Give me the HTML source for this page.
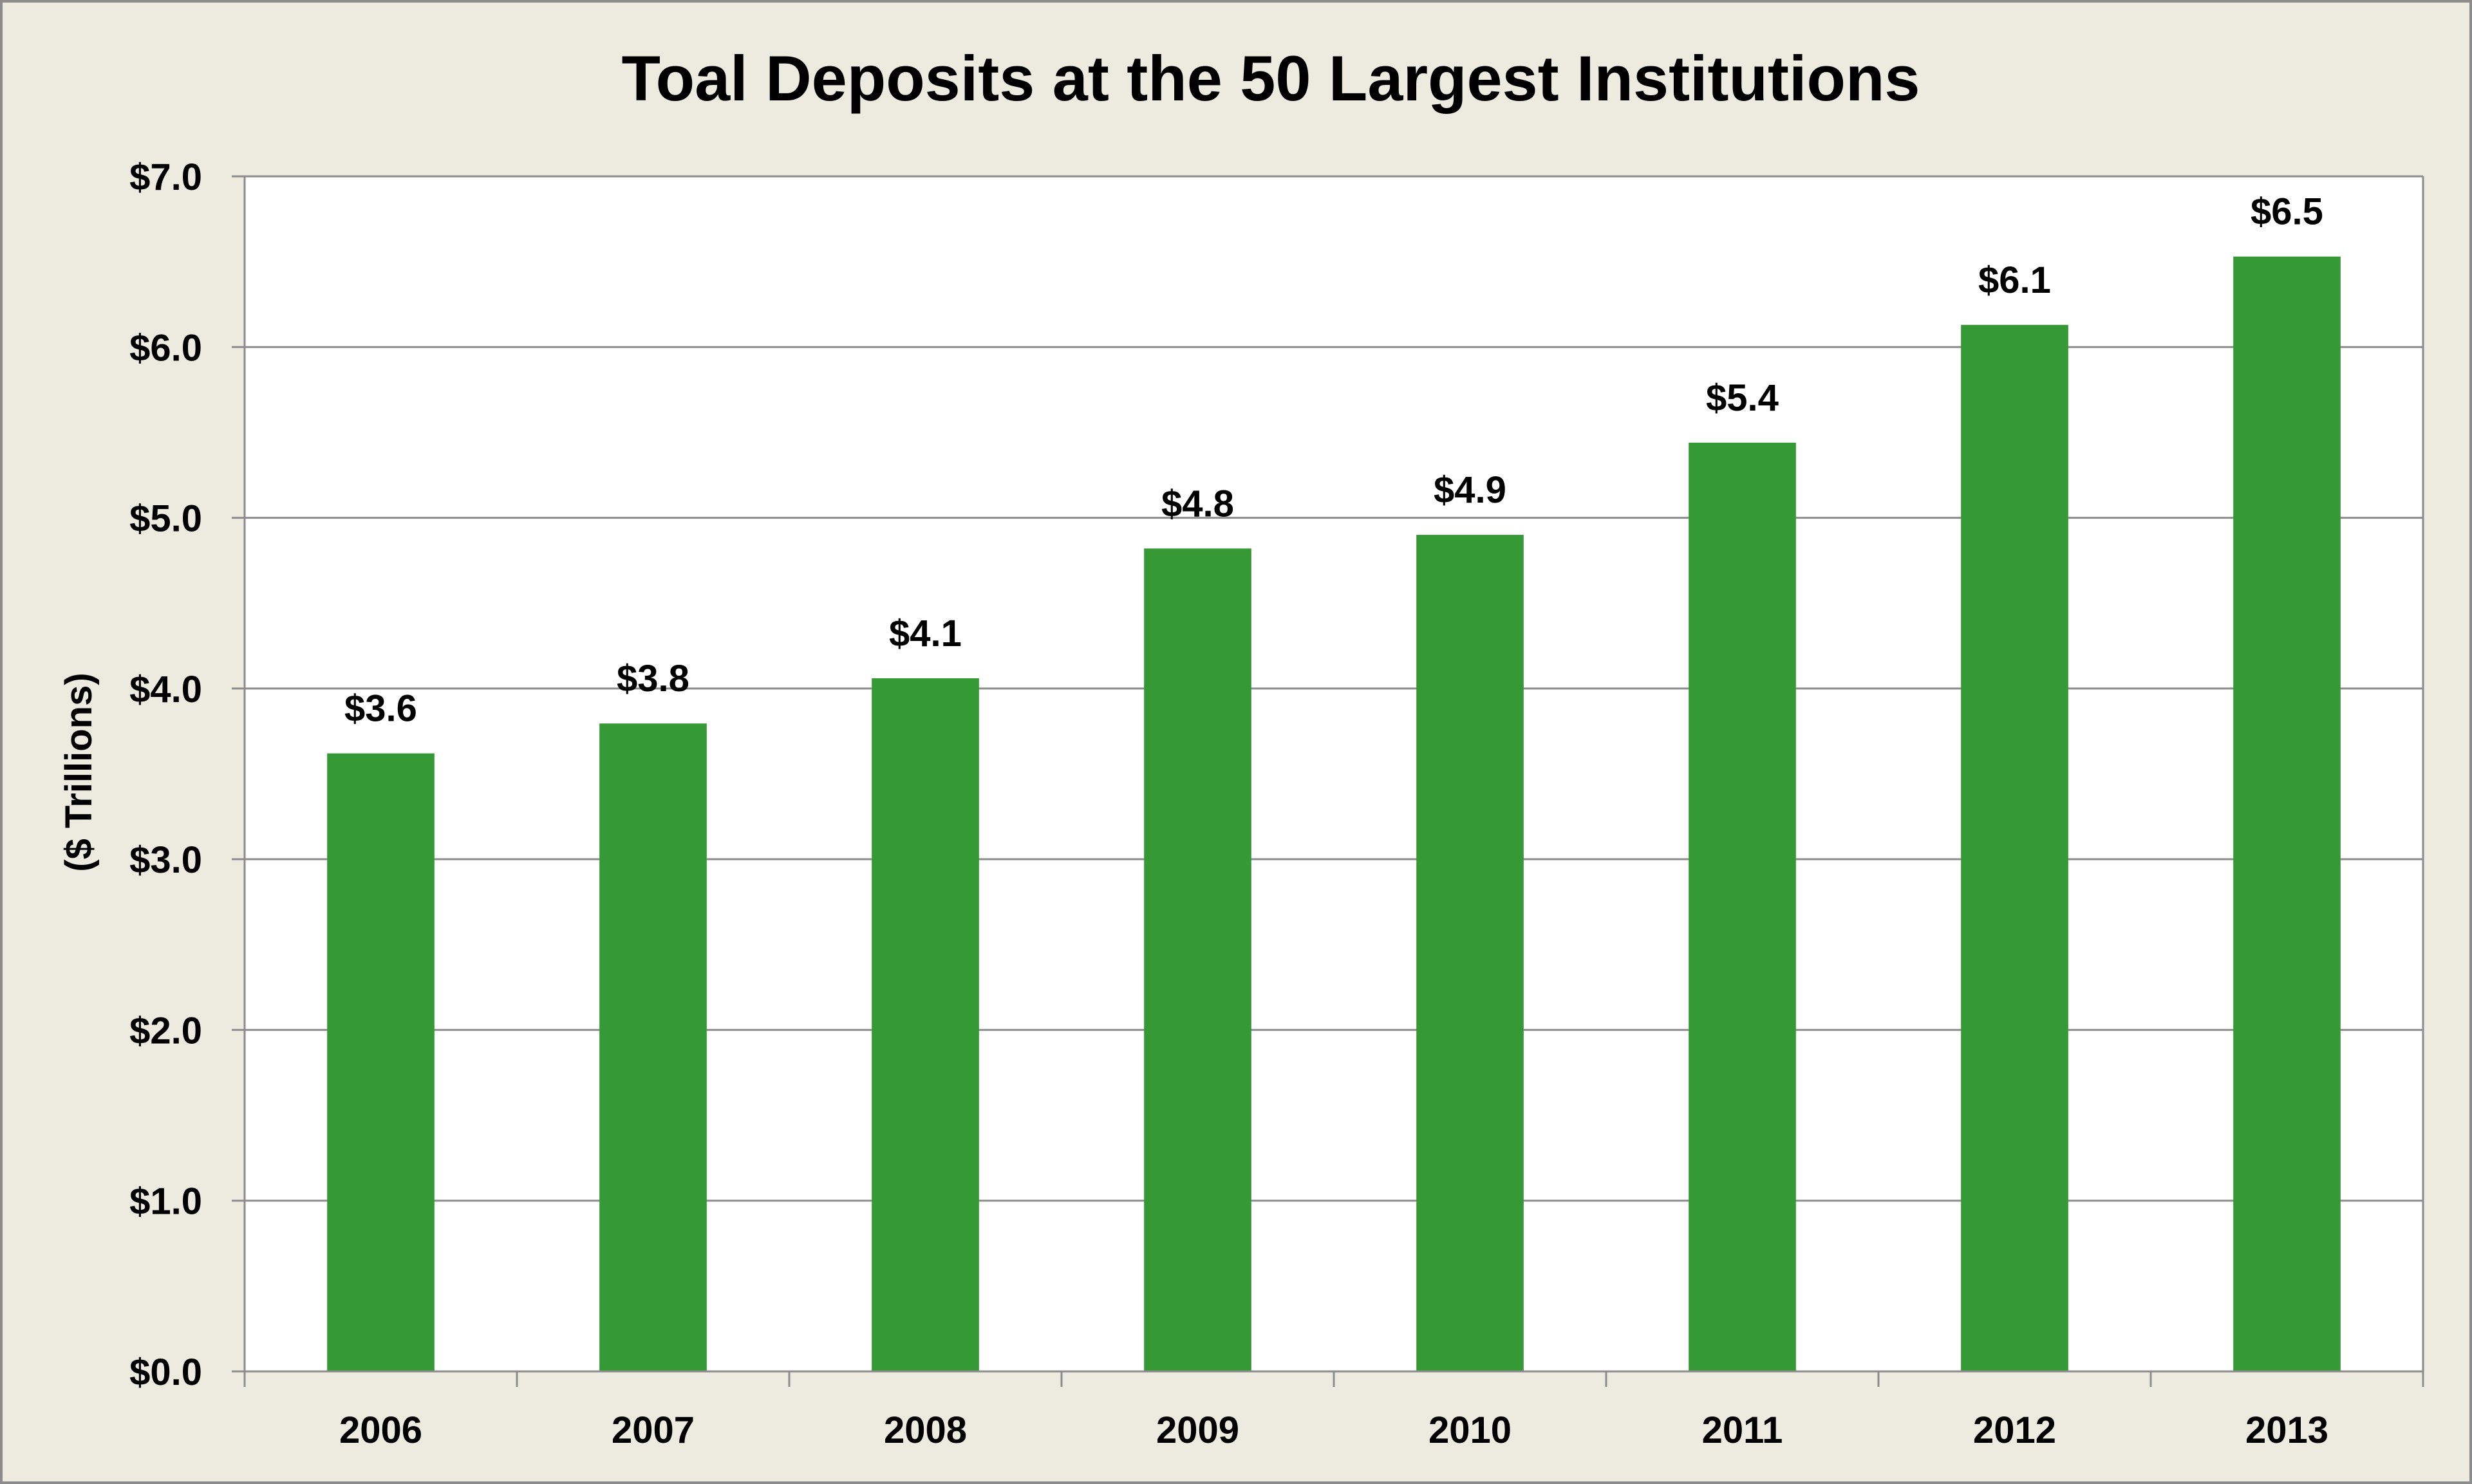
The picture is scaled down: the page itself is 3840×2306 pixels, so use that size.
<!DOCTYPE html>
<html><head><meta charset="utf-8"><style>
html,body{margin:0;padding:0;background:#edebdf;}
svg{display:block;}
text{font-family:"Liberation Sans",Arial,sans-serif;font-weight:bold;fill:#000;}
</style></head><body>
<svg id="chart" width="3840" height="2306" viewBox="0 0 3840 2306" xmlns="http://www.w3.org/2000/svg">
<rect x="2" y="2" width="3836" height="2302" fill="#edebdf" stroke="#8c8c8c" stroke-width="4"/>
<text x="1974" y="156" font-size="99" text-anchor="middle">Toal Deposits at the 50 Largest Institutions</text>
<rect x="380" y="274" width="3384" height="1857" fill="#ffffff"/>
<g id="grid"></g>
<g id="bars"></g>
<g id="axes"></g>
<text transform="translate(142,1200) rotate(-90)" font-size="58" text-anchor="middle">($ Trillions)</text>
</svg>
<script>
const categories = ["2006","2007","2008","2009","2010","2011","2012","2013"];
const values = [3.62, 3.795, 4.06, 4.82, 4.90, 5.44, 6.13, 6.53];
const valueLabels = ["$3.6","$3.8","$4.1","$4.8","$4.9","$5.4","$6.1","$6.5"];
const yTicks = [0,1,2,3,4,5,6,7];
const yTickLabels = ["$0.0","$1.0","$2.0","$3.0","$4.0","$5.0","$6.0","$7.0"];

const NS="http://www.w3.org/2000/svg";
const L=380,R=3764,T=274,B=2131,YMAX=7;
const y=v=>B-(v/YMAX)*(B-T);
const band=(R-L)/categories.length;
const x=i=>L+band*i;
function mk(tag,attrs,parent){const e=document.createElementNS(NS,tag);for(const k in attrs)e.setAttribute(k,attrs[k]);parent.appendChild(e);return e;}
const grid=document.getElementById('grid'),bars=document.getElementById('bars'),axes=document.getElementById('axes');

yTicks.forEach((t,i)=>{
  if(t>0){const g=mk('line',{x1:L,x2:R,y1:y(t),y2:y(t),stroke:'#8c8c8c','stroke-width':3},grid);
  
  }
  const tk=mk('line',{x1:L-20,x2:L,y1:y(t),y2:y(t),stroke:'#8c8c8c','stroke-width':3},axes);
  
  
  const lb=mk('text',{x:314,y:y(t)+21,'font-size':58,'text-anchor':'end'},axes);
  lb.textContent=yTickLabels[i];
  
  
});
mk('line',{x1:L,x2:L,y1:T,y2:B,stroke:'#8c8c8c','stroke-width':3},axes);
mk('line',{x1:L,x2:R,y1:B,y2:B,stroke:'#8c8c8c','stroke-width':3},axes);
mk('line',{x1:R,x2:R,y1:T,y2:B,stroke:'#8c8c8c','stroke-width':3},axes);
mk('line',{x1:L,x2:R,y1:T,y2:T,stroke:'#8c8c8c','stroke-width':3},axes);
for(let i=0;i<=categories.length;i++){
  const t=mk('line',{x1:x(i),x2:x(i),y1:B,y2:B+24,stroke:'#8c8c8c','stroke-width':3},axes);
  
  
}
const bw=band*0.394;
categories.forEach((c,i)=>{
  const cx=x(i)+band/2;
  const r=mk('rect',{x:cx-bw/2,y:y(values[i]),width:bw,height:B-y(values[i]),fill:'#359a35'},bars);
  
  
  const vl=mk('text',{x:cx,y:y(values[i])-50,'font-size':58,'text-anchor':'middle'},bars);
  vl.textContent=valueLabels[i];
  
  
  const xl=mk('text',{x:cx,y:2242,'font-size':58,'text-anchor':'middle'},axes);
  xl.textContent=c;
  
  
});
</script>
</body></html>
